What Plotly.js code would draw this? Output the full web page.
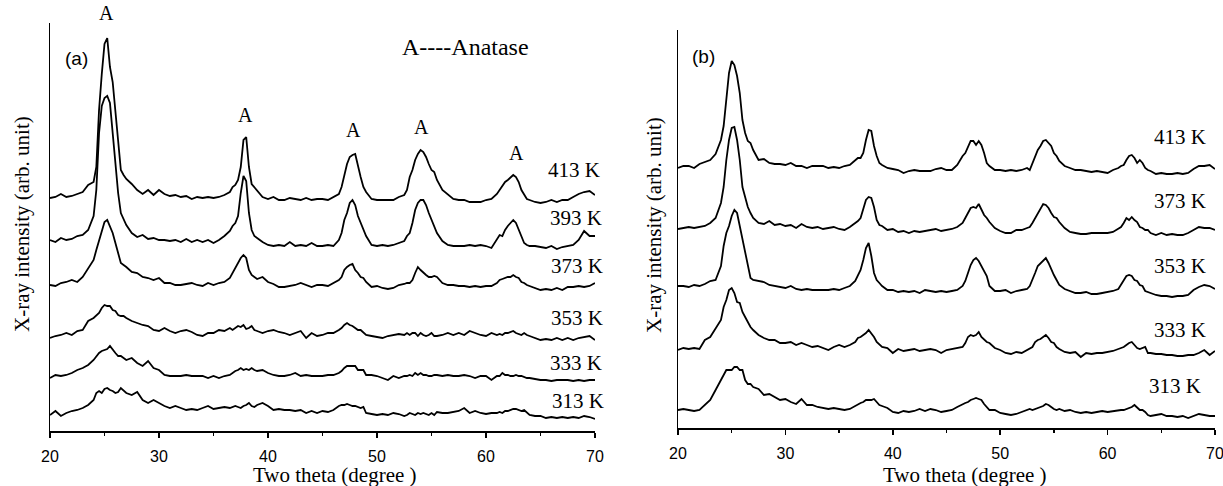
<!DOCTYPE html>
<html>
<head>
<meta charset="utf-8">
<script src="https://cdn.plot.ly/plotly-3.0.1.min.js"></script>
<style>
  html, body { margin: 0; padding: 0; background: #ffffff; }
  #chart { width: 1223px; height: 486px; }
</style>
</head>
<body>
<div id="chart"></div>
<script>
// Two-theta sampling positions (degree)
const twoTheta = [
  20,20.5,21,21.5,22,22.5,23,23.5,24,
  24.25,24.5,24.75,25,25.25,25.5,25.75,26,26.25,26.5,26.75,27,
  27.5,28,28.5,29,29.5,30,30.5,31,31.5,32,32.5,33,33.5,34,34.5,35,35.5,36,36.5,
  36.75,37,37.25,37.5,37.75,38,38.25,38.5,38.75,39,
  39.5,40,40.5,41,41.5,42,42.5,43,43.5,44,44.5,45,45.5,46,46.5,
  46.75,47,47.25,47.5,47.75,48,48.25,48.5,48.75,49,
  49.5,50,50.5,51,51.5,52,52.5,
  52.75,53,53.25,53.5,53.75,54,54.25,54.5,54.75,55,55.25,55.5,
  56,56.5,57,57.5,58,58.5,59,59.5,60,60.5,61,
  61.25,61.5,61.75,62,62.25,62.5,62.75,63,63.25,63.5,63.75,
  64,64.5,65,65.5,66,66.5,67,67.5,68,68.5,69,69.5,70
];

// Panel (a) sample labels and stacking offsets (arb. unit)
const labelsA = ['413 K','393 K','373 K','353 K','333 K','313 K'];
const offsetsA = [233, 188, 145, 94, 53, 18];

// Panel (a) intensities (arb. unit, above each trace's baseline)
const a413 = [0,1,4,1,2,4,6,13,16,
  31,88,124,154,160,131,116,88,58,28,23,19,
  14,8,4,8,3,8,4,2,3,1,2,-1,1,0,1,0,1,3,6,
  11,13,18,31,58,61,31,14,11,8,
  1,-1,1,-2,-2,0,-1,-2,0,-2,-1,-1,-2,1,4,
  11,24,34,41,43,44,31,21,11,6,
  -1,-2,-2,-2,-2,1,3,
  8,21,28,38,44,48,46,41,34,28,26,18,
  8,3,-1,-2,-2,-4,-4,-4,-2,-1,4,
  8,13,16,18,21,23,21,16,8,4,-1,
  -2,-4,-5,-4,-2,-4,-2,-2,1,4,6,7,3];
const a393 = [3,1,5,3,4,7,8,13,27,
  53,110,137,145,147,140,110,77,50,30,23,18,
  10,6,8,4,5,3,3,2,3,1,4,1,3,1,3,0,3,7,12,
  17,20,27,50,67,62,30,13,7,5,
  1,-2,-3,-2,-3,1,-3,-2,-3,0,-3,-3,-2,-3,3,
  10,23,30,40,43,38,27,20,13,7,
  -2,-3,-2,-3,-2,0,2,
  7,10,20,33,40,43,43,38,30,23,17,10,
  2,-2,-3,-3,-3,-2,-3,-2,-3,-5,3,
  8,7,13,17,20,23,20,13,7,0,-2,
  -3,-3,-4,-5,-3,-6,-4,-3,-2,3,12,7,7];
const a373 = [1,0,3,4,6,4,9,18,26,
  36,46,56,64,66,59,53,43,33,23,21,19,
  14,13,9,8,6,8,3,3,1,1,2,3,1,0,3,1,3,4,8,
  13,19,23,28,31,28,16,11,9,7,
  9,4,2,-1,-1,0,1,3,1,-1,1,1,0,3,6,
  9,16,19,21,22,16,13,9,8,4,
  -1,0,-2,-3,-2,1,2,
  3,3,6,13,19,16,13,11,9,9,10,9,
  3,1,1,0,0,-1,0,-1,0,0,3,
  6,7,8,9,9,11,9,8,4,3,1,
  0,-2,-4,-3,-4,-2,-4,-1,-1,0,-1,0,3];
const a353 = [-1,1,2,4,2,6,7,16,19,
  22,24,29,32,31,31,27,26,22,21,21,19,
  16,14,12,11,7,6,9,6,4,6,7,5,2,1,4,4,7,6,9,
  7,9,11,10,12,8,9,11,7,6,
  4,6,7,5,4,2,4,6,-1,4,1,2,4,4,7,
  9,12,14,12,11,9,7,7,4,2,
  1,0,-1,1,2,3,2,
  4,2,4,4,1,4,2,1,2,4,1,1,
  2,4,2,4,2,6,4,2,1,4,2,
  3,2,4,4,5,6,4,3,2,4,2,
  1,-1,-3,-2,-3,-1,-3,-1,-3,-1,0,1,-3];
const a333 = [0,3,2,3,5,8,10,13,18,
  22,25,27,28,29,32,28,25,22,22,20,18,
  20,15,12,17,10,8,3,2,2,2,3,2,2,2,0,2,0,2,3,
  5,7,8,10,8,9,8,10,8,7,
  8,5,3,2,2,3,5,2,3,2,2,2,3,3,5,
  7,10,12,12,12,12,8,8,8,3,
  3,2,0,-2,2,0,2,
  2,3,2,5,3,5,3,3,2,2,3,3,
  2,3,2,2,3,2,0,2,2,-2,2,
  2,5,3,3,2,2,3,2,2,1,0,
  0,-1,-2,-2,-3,-2,-2,-2,-3,-2,-3,-2,-2];
const a313 = [-2,2,-3,0,2,3,5,8,13,
  20,22,20,24,25,23,22,20,21,25,22,20,
  18,21,13,10,13,10,7,5,7,5,3,4,3,5,7,4,5,6,5,
  6,7,6,5,7,8,10,7,6,8,
  10,7,3,4,3,3,2,3,0,2,0,2,1,3,7,
  8,8,9,8,7,7,6,5,6,0,
  -1,-2,-1,-2,0,-1,-3,
  -2,0,-1,-2,0,-1,0,-1,-2,0,-2,1,
  0,0,1,2,5,0,2,0,-1,0,0,
  1,0,2,2,3,4,4,3,2,3,0,
  -2,-3,-3,-5,-4,-5,-4,-5,-4,-5,-3,-4,-6];

// Panel (b) sample labels and stacking offsets (arb. unit)
const labelsB = ['413 K','373 K','353 K','333 K','313 K'];
const offsetsB = [259, 198, 140, 78, 17];

// Panel (b) intensities (arb. unit)
const b413 = [1,3,3,1,5,7,9,15,29,
  43,69,96,108,104,93,76,49,36,28,26,19,
  9,10,6,5,5,4,6,3,3,1,3,3,3,1,2,1,3,4,9,
  11,11,16,29,39,38,23,13,6,4,
  1,0,-1,-4,-2,-1,-2,-2,-2,0,1,-1,-1,4,13,
  16,23,28,28,24,28,24,16,6,3,
  -1,-1,-2,-1,-2,-1,1,
  -1,6,14,19,23,28,29,26,23,16,13,8,
  3,1,-1,-1,-2,-3,-2,-3,-4,-1,1,
  3,4,9,13,14,11,6,9,6,1,-1,
  -2,-5,-4,-5,-5,-4,-5,-4,0,3,3,4,0];
const b373 = [1,2,3,2,3,4,7,12,27,
  43,70,90,102,103,90,70,43,33,23,17,12,
  7,6,9,5,6,4,5,2,6,3,2,3,1,2,3,1,0,3,7,
  9,12,20,30,33,32,23,10,5,4,
  0,1,-2,-1,-3,-1,-2,-1,0,1,-1,0,1,3,7,
  12,17,22,23,22,26,20,15,12,8,
  2,-1,-3,-3,0,0,2,
  3,7,12,17,22,26,25,22,17,13,12,8,
  2,-2,-3,-4,-4,-3,-3,-3,-3,-2,1,
  3,7,12,10,13,10,8,3,2,0,0,
  -3,-5,-3,-5,-4,-5,-5,-3,0,3,2,2,0];
const b353 = [2,2,1,3,2,4,7,8,22,
  42,55,62,72,78,75,62,48,35,22,10,8,
  7,6,3,2,1,0,2,-1,-2,-1,-2,-2,-2,-2,-1,-2,0,2,7,
  12,18,28,40,45,32,15,8,5,2,
  -2,-2,-4,-3,-4,-3,-5,-2,-3,-4,-3,-4,-3,-2,2,
  7,15,23,28,30,27,22,17,12,2,
  -3,-3,-2,-5,-3,-2,-1,
  2,8,15,22,25,28,30,25,18,13,8,3,
  -1,-3,-5,-5,-4,-6,-6,-5,-4,-3,-1,
  3,7,12,13,12,8,7,3,2,-3,-4,
  -5,-7,-8,-8,-9,-8,-8,-7,-2,1,3,2,-1];
const b333 = [0,2,1,2,1,10,13,22,30,
  43,50,60,62,57,48,47,38,33,28,23,20,
  15,12,10,10,7,7,8,5,7,5,3,4,2,0,3,5,3,5,8,
  12,13,15,17,20,17,13,8,5,3,
  2,-3,1,-1,0,1,-1,0,1,0,-3,0,1,2,3,
  7,13,15,14,15,18,13,10,8,7,
  2,0,-3,-4,-2,-3,0,
  2,3,8,10,11,13,15,12,8,7,3,1,
  -2,-3,-2,-7,-3,-4,-3,-3,-2,-1,1,
  2,3,5,7,8,5,2,1,2,3,-3,
  -3,-4,-4,-5,-5,-6,-6,-5,-5,-3,0,-5,-1];
const b313 = [1,2,1,0,1,6,11,21,31,
  37,41,41,41,44,44,41,41,31,27,27,24,
  22,16,17,14,11,12,9,7,12,6,6,4,3,2,3,2,1,2,5,
  7,8,9,11,11,11,12,9,6,5,
  3,-1,-2,0,-1,0,2,0,2,1,-1,0,1,4,7,
  8,9,11,12,13,12,11,7,4,1,
  1,-2,-3,-4,-3,-1,1,
  2,1,2,3,4,5,7,6,4,2,1,2,
  0,1,-1,-2,-1,-2,-1,0,-1,0,1,
  1,1,2,3,4,6,3,1,1,-1,-4,
  -5,-4,-3,-5,-5,-6,-5,-7,-5,-3,-4,-5,-5];

// Anatase reflection positions (degree) marked in panel (a)
const anatasePeaks = [25.2, 37.9, 47.8, 54.1, 62.8];

const seriesA = [a413, a393, a373, a353, a333, a313];
const seriesB = [b413, b373, b353, b333, b313];
[...seriesA, ...seriesB].forEach((s, i) => {
  if (s.length !== twoTheta.length) throw new Error('series ' + i + ' has ' + s.length + ' values, expected ' + twoTheta.length);
});

// ---- layout helpers (pixel -> paper) ----
const W = 1223, H = 486;
const fx = p => p / W;
const fy = p => 1 - p / H;

const SERIF = '"Liberation Serif", "Times New Roman", serif';
const SANS = '"Liberation Sans", Arial, sans-serif';
const lineStyle = { color: '#000000', width: 1.8 };

const traces = [];
seriesA.forEach((s, i) => {
  traces.push({
    type: 'scatter', mode: 'lines', x: twoTheta,
    y: s.map(v => v + offsetsA[i]),
    xaxis: 'x', yaxis: 'y', line: lineStyle, name: labelsA[i],
    hoverinfo: 'skip'
  });
});
seriesB.forEach((s, i) => {
  traces.push({
    type: 'scatter', mode: 'lines', x: twoTheta,
    y: s.map(v => v + offsetsB[i]),
    xaxis: 'x2', yaxis: 'y2', line: lineStyle, name: labelsB[i],
    hoverinfo: 'skip'
  });
});

function xAxis(domain, anchor) {
  return {
    domain: domain, anchor: anchor, range: [20, 70], dtick: 10, tick0: 20,
    showgrid: false, zeroline: false, showline: true,
    linecolor: '#000', linewidth: 1.5,
    ticks: 'outside', ticklen: 5, tickwidth: 1.5, tickcolor: '#000',
    minor: { ticks: 'outside', ticklen: 3, tickwidth: 1.2, tickcolor: '#000', dtick: 5, showgrid: false },
    tickfont: { family: SANS, size: 16, color: '#000' },
    ticklabelstandoff: 5,
    ticklabeloverflow: 'allow',
    fixedrange: true
  };
}
function yAxis(domain, anchor, top) {
  return {
    domain: domain, anchor: anchor, range: [0, top],
    showgrid: false, zeroline: false, showline: true,
    linecolor: '#000', linewidth: 1.5,
    ticks: '', showticklabels: false, fixedrange: true
  };
}

const annotations = [];
function txt(text, x, y, size, family, extra) {
  annotations.push(Object.assign({
    text: text, xref: 'paper', yref: 'paper', x: fx(x), y: fy(y),
    xanchor: 'center', yanchor: 'middle', showarrow: false,
    font: { family: family, size: size, color: '#000' }
  }, extra || {}));
}

// Axis titles
txt('Two theta (degree )', 335, 475, 21, SERIF);
txt('Two theta (degree )', 965, 475, 21, SERIF);
txt('X-ray intensity (arb. unit)', 22, 224, 21, SERIF, { textangle: -90 });
txt('X-ray intensity (arb. unit)', 654, 225, 21, SERIF, { textangle: -90 });

// Panel tags and legend note
txt('(a)', 76, 58, 19, SANS);
txt('(b)', 703, 57, 19, SANS);
txt('A----Anatase', 465, 47, 24, SERIF);

// Sample labels
const labelYA = [170, 218, 266, 318, 363, 401];
const labelXA = [574, 576, 577, 577, 576, 578];
labelsA.forEach((t, i) => txt(t, labelXA[i], labelYA[i], 21, SERIF));
const labelYB = [137, 201, 266, 330, 386];
const labelXB = [1180, 1180, 1180, 1180, 1175];
labelsB.forEach((t, i) => txt(t, labelXB[i], labelYB[i], 21, SERIF));

// Peak markers "A"
const peakLabelY = [13, 115, 130, 127, 153];
anatasePeaks.forEach((p, i) => {
  annotations.push({
    text: 'A', xref: 'x', yref: 'paper', x: p, y: fy(peakLabelY[i]),
    xanchor: 'center', yanchor: 'middle', showarrow: false,
    font: { family: SERIF, size: 20, color: '#000' }
  });
});

const layout = {
  width: W, height: H,
  margin: { l: 0, r: 0, t: 0, b: 0, pad: 0 },
  paper_bgcolor: '#ffffff', plot_bgcolor: '#ffffff',
  showlegend: false,
  xaxis: xAxis([fx(50), fx(595)], 'y'),
  yaxis: yAxis([fy(431), fy(23)], 'x', 408),
  xaxis2: xAxis([fx(678), fx(1215)], 'y2'),
  yaxis2: yAxis([fy(428), fy(30)], 'x2', 398),
  annotations: annotations
};

Plotly.newPlot('chart', traces, layout, { staticPlot: true, displayModeBar: false });
</script>
</body>
</html>
